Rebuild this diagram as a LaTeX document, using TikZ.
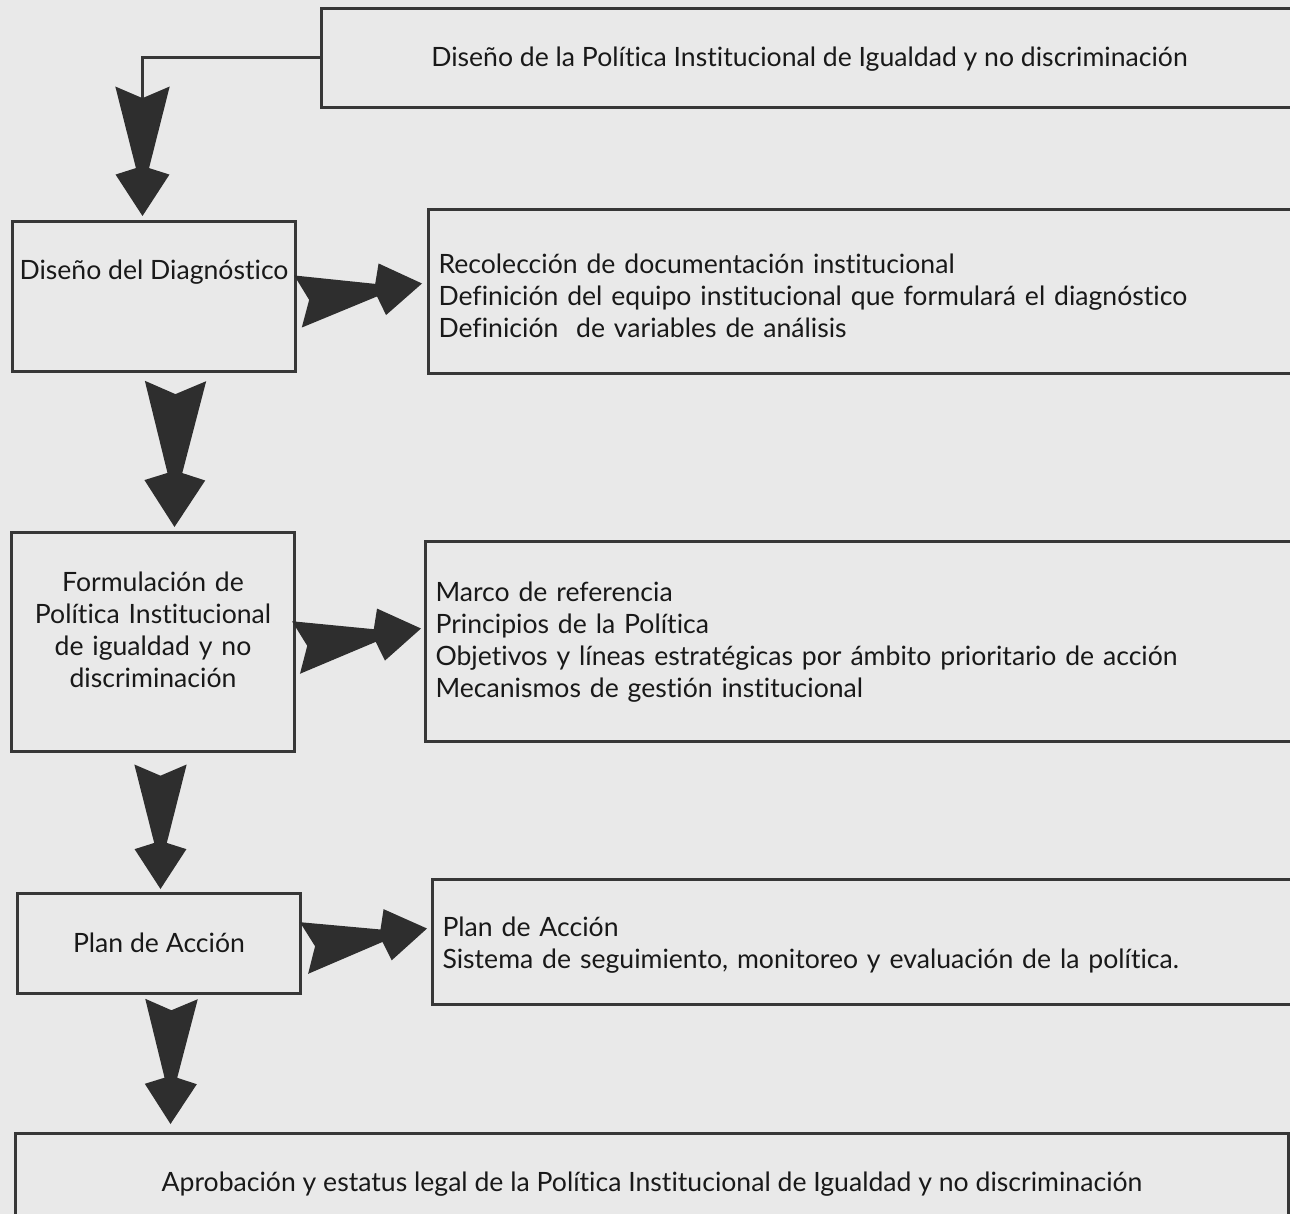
\documentclass[tikz,border=0pt]{standalone}
\usepackage{fontspec}
\setmainfont{Lato}[Ligatures=CommonOff]
\usepackage{xcolor}
\usetikzlibrary{calc, positioning}
\definecolor{pagegray}{RGB}{233,233,233}
\definecolor{framegray}{RGB}{55,55,55}
\definecolor{arrowgray}{RGB}{46,46,46}
% fat block arrow with a notched tail, from #1 (tail) to #2 (tip)
\newcommand{\fatarrow}[2]{%
  \coordinate (fas) at ($#1$);
  \coordinate (fae) at ($#2$);
  \coordinate (fan) at ($(fas)!0.63!(fae)$);
  \coordinate (fah) at ($(fas)!0.68!(fae)$);
  \fill[arrowgray] ($(fas)!0.21!90:(fae)$) -- ($(fas)!0.09!(fae)$) -- ($(fas)!0.21!-90:(fae)$)
    -- ($(fan)!0.137!-90:(fae)$) -- ($(fah)!0.65!-90:(fae)$) -- (fae)
    -- ($(fah)!0.65!90:(fae)$) -- ($(fan)!0.137!90:(fae)$) -- cycle;
}

\begin{document}
\begin{tikzpicture}[x=0.5pt, y=-0.5pt,
    box/.style={draw=framegray, line width=1.5pt, inner sep=0pt, text=black!90,
                anchor=north west, text height=29pt,
                font=\fontsize{13.3}{16}\selectfont},
    list/.style={box, align=left, inner xsep=5pt}]
    % Page
    \fill[pagegray] (0,0) rectangle (1290,1214);
    \useasboundingbox (0,0) rectangle (1290,1214);

    % Steps
    \node[box, minimum width=488pt, text depth=20.5pt] (polit) at (320,7)
        {Diseño de la Política Institucional de Igualdad y no discriminación};
    \node[box, minimum width=141.5pt, text depth=46pt] (diag) at (11,220)
        {Diseño del Diagnóstico};
    \node[box, align=center, text width=141.5pt, text height=29.5pt, text depth=80pt] (form) at (10,531)
        {Formulación de\\Política Institucional\\de igualdad y no\\discriminación};
    \node[box, minimum width=141.5pt, text height=29.5pt, text depth=20.5pt] (plan) at (16,892)
        {Plan de Acción};
    \node[box, minimum width=636.5pt, text depth=21pt] (aprob) at (14,1132)
        {Aprobación y estatus legal de la Política Institucional de Igualdad y no discriminación};

    % Contents
    \node[list, text width=424.5pt, text height=32pt, text depth=50pt] (recol) at (427,208)
        {Recolección de documentación institucional\\
         Definición del equipo institucional que formulará el diagnóstico\\
         Definición\ \ de variables de análisis};
    \node[list, text width=426pt, text height=30pt, text depth=70pt] (marco) at (424,540)
        {Marco de referencia\\
         Principios de la Política\\
         Objetivos y líneas estratégicas por ámbito prioritario de acción\\
         Mecanismos de gestión institucional};
    \node[list, text width=422.5pt, text height=28.5pt, text depth=34pt] (segui) at (431,878)
        {Plan de Acción\\
         Sistema de seguimiento, monitoreo y evaluación de la política.};

    % Arrows
    \draw[framegray, line width=1.5pt] (polit.west) -| ($(diag.north)+(-11.5,-118)$);
    \fatarrow{(diag.north)+(-11.5,-133.5)}{(diag.north)+(-11.5,-4)}
    \fatarrow{(diag.east)+(1,5)}{(recol.west)+(-5,-8)}
    \fatarrow{(diag.south)+(21.5,8)}{(form.north)+(21.5,-4)}
    \fatarrow{(form.east)+(0,5.5)}{(marco.west)+(-3,-13)}
    \fatarrow{(form.south)+(7.5,11.5)}{(plan.north)+(1.5,-3)}
    \fatarrow{(plan.east)+(2,4.5)}{(segui.west)+(-4,-13.5)}
    \fatarrow{(plan.south)+(12.5,4)}{($(plan.south |- aprob.north)+(11.5,-8)$)}
\end{tikzpicture}
\end{document}
